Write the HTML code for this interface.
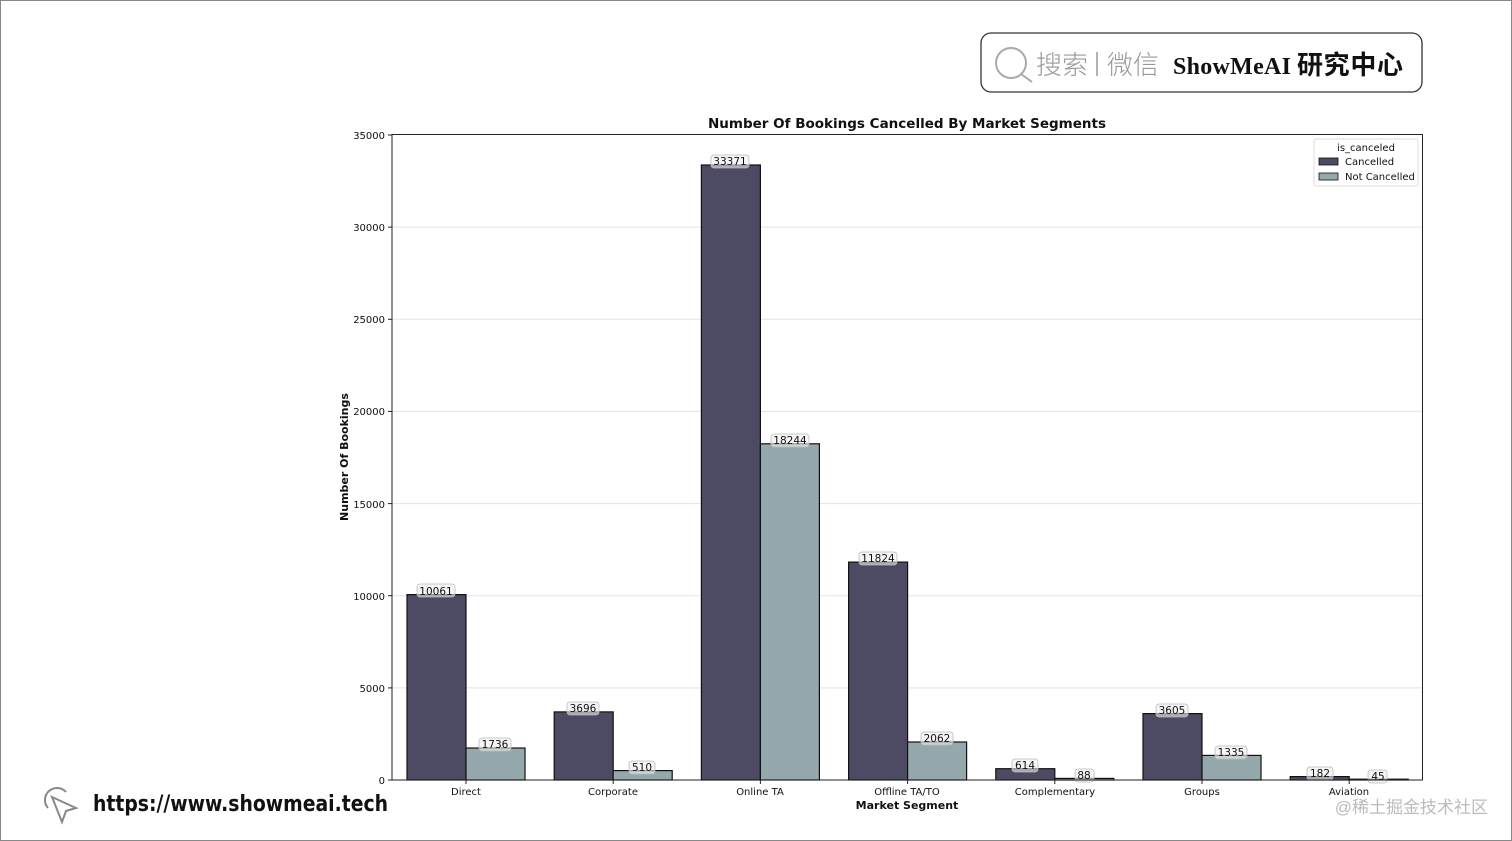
<!DOCTYPE html>
<html><head><meta charset="utf-8"><style>
html,body{margin:0;padding:0;background:#fff}
svg{display:block}
text{font-family:"DejaVu Sans","Liberation Sans",sans-serif}
</style></head><body>
<svg width="1512" height="841" viewBox="0 0 1512 841" xmlns="http://www.w3.org/2000/svg">
<rect x="0.5" y="0.5" width="1511" height="840" fill="#fff" stroke="#888" stroke-width="1"/>
<!-- logo box -->
<rect x="981" y="33" width="441" height="59" rx="10" fill="#fff" stroke="#333" stroke-width="1.3"/>
<circle cx="1011" cy="63" r="15" fill="none" stroke="#aaa" stroke-width="2"/>
<line x1="1021" y1="74" x2="1032" y2="82" stroke="#aaa" stroke-width="2"/>
<text x="1036" y="74" font-size="26" fill="#999" style="font-family:'Noto Sans CJK SC',sans-serif;font-weight:300">搜索</text>
<line x1="1097" y1="52" x2="1097" y2="76" stroke="#999" stroke-width="1.5"/>
<text x="1107" y="74" font-size="26" fill="#999" style="font-family:'Noto Sans CJK SC',sans-serif;font-weight:300">微信</text>
<text x="1173" y="74" font-size="24" font-weight="bold" fill="#111" textLength="118" style="font-family:'Liberation Serif','Noto Serif CJK SC',serif">ShowMeAI</text>
<text x="1297" y="74" font-size="26" font-weight="bold" fill="#111" textLength="106" style="font-family:'Noto Sans CJK SC',sans-serif">研究中心</text>
<!-- title -->
<text x="907" y="128" font-size="13.5" font-weight="bold" text-anchor="middle" fill="#111">Number Of Bookings Cancelled By Market Segments</text>
<!-- grid -->
<g stroke="#e3e3e3" stroke-width="1">
<line x1="392" x2="1422" y1="687.9" y2="687.9"/>
<line x1="392" x2="1422" y1="595.7" y2="595.7"/>
<line x1="392" x2="1422" y1="503.6" y2="503.6"/>
<line x1="392" x2="1422" y1="411.4" y2="411.4"/>
<line x1="392" x2="1422" y1="319.3" y2="319.3"/>
<line x1="392" x2="1422" y1="227.1" y2="227.1"/>
</g>
<!-- bars -->
<g stroke="#111" stroke-width="1.2">
<rect x="407" y="594.6" width="59" height="185.4" fill="#4d4b63"/>
<rect x="466" y="748" width="59" height="32" fill="#95a9ad"/>
<rect x="554.2" y="711.9" width="59" height="68.1" fill="#4d4b63"/>
<rect x="613.2" y="770.6" width="59" height="9.4" fill="#95a9ad"/>
<rect x="701.4" y="165" width="59" height="615" fill="#4d4b63"/>
<rect x="760.4" y="443.8" width="59" height="336.2" fill="#95a9ad"/>
<rect x="848.6" y="562.1" width="59" height="217.9" fill="#4d4b63"/>
<rect x="907.6" y="742" width="59" height="38" fill="#95a9ad"/>
<rect x="995.8" y="768.7" width="59" height="11.3" fill="#4d4b63"/>
<rect x="1054.8" y="778.4" width="59" height="1.6" fill="#95a9ad"/>
<rect x="1143" y="713.6" width="59" height="66.4" fill="#4d4b63"/>
<rect x="1202" y="755.4" width="59" height="24.6" fill="#95a9ad"/>
<rect x="1290.2" y="776.6" width="59" height="3.4" fill="#4d4b63"/>
<rect x="1349.2" y="779.2" width="59" height="0.8" fill="#95a9ad"/>
</g>
<!-- value labels -->
<g font-size="10.5" text-anchor="middle" fill="#111">
<g fill="#eee" fill-opacity="0.6" stroke="#bbb" stroke-width="0.8">
<rect x="417" y="584" width="38" height="13" rx="3"/>
<rect x="479" y="738" width="32" height="13" rx="3"/>
<rect x="567" y="702" width="32" height="13" rx="3"/>
<rect x="629" y="761" width="26" height="13" rx="3"/>
<rect x="711" y="155" width="38" height="13" rx="3"/>
<rect x="771" y="434" width="38" height="13" rx="3"/>
<rect x="859" y="552" width="38" height="13" rx="3"/>
<rect x="921" y="732" width="32" height="13" rx="3"/>
<rect x="1012" y="759" width="26" height="13" rx="3"/>
<rect x="1075" y="769" width="19" height="13" rx="3"/>
<rect x="1156" y="704" width="32" height="13" rx="3"/>
<rect x="1215" y="746" width="32" height="13" rx="3"/>
<rect x="1307" y="767" width="26" height="13" rx="3"/>
<rect x="1368" y="770" width="19" height="13" rx="3"/>
</g>
<text x="436" y="595">10061</text><text x="495" y="748">1736</text>
<text x="583" y="712">3696</text><text x="642" y="771">510</text>
<text x="730" y="165">33371</text><text x="790" y="444">18244</text>
<text x="878" y="562">11824</text><text x="937" y="742">2062</text>
<text x="1025" y="769">614</text><text x="1084" y="779">88</text>
<text x="1172" y="714">3605</text><text x="1231" y="756">1335</text>
<text x="1320" y="777">182</text><text x="1378" y="780">45</text>
</g>
<!-- axes -->
<rect x="392" y="134.5" width="1030.5" height="645.5" fill="none" stroke="#222" stroke-width="1"/>
<g stroke="#222" stroke-width="1">
<line x1="388" x2="392" y1="780" y2="780"/><line x1="388" x2="392" y1="687.9" y2="687.9"/>
<line x1="388" x2="392" y1="595.7" y2="595.7"/><line x1="388" x2="392" y1="503.6" y2="503.6"/>
<line x1="388" x2="392" y1="411.4" y2="411.4"/><line x1="388" x2="392" y1="319.3" y2="319.3"/>
<line x1="388" x2="392" y1="227.1" y2="227.1"/><line x1="388" x2="392" y1="135" y2="135"/>
<line x1="466" x2="466" y1="780" y2="784"/><line x1="613.2" x2="613.2" y1="780" y2="784"/>
<line x1="760.4" x2="760.4" y1="780" y2="784"/><line x1="907.6" x2="907.6" y1="780" y2="784"/>
<line x1="1054.8" x2="1054.8" y1="780" y2="784"/><line x1="1202" x2="1202" y1="780" y2="784"/>
<line x1="1349.2" x2="1349.2" y1="780" y2="784"/>
</g>
<g font-size="10" text-anchor="end" fill="#111">
<text x="385" y="784">0</text><text x="385" y="692">5000</text><text x="385" y="600">10000</text>
<text x="385" y="508">15000</text><text x="385" y="415">20000</text><text x="385" y="323">25000</text>
<text x="385" y="231">30000</text><text x="385" y="139">35000</text>
</g>
<g font-size="10" text-anchor="middle" fill="#111">
<text x="466" y="795">Direct</text><text x="613" y="795">Corporate</text><text x="760" y="795">Online TA</text>
<text x="907" y="795">Offline TA/TO</text><text x="1055" y="795">Complementary</text><text x="1202" y="795">Groups</text>
<text x="1349" y="795">Aviation</text>
</g>
<text x="907" y="809" font-size="11" font-weight="bold" text-anchor="middle" fill="#111">Market Segment</text>
<text transform="translate(348,457) rotate(-90)" font-size="11" font-weight="bold" text-anchor="middle" fill="#111">Number Of Bookings</text>
<!-- legend -->
<rect x="1314" y="139" width="104" height="47" rx="2" fill="#fff" stroke="#ddd"/>
<text x="1366" y="151" font-size="10" text-anchor="middle" fill="#111">is_canceled</text>
<rect x="1319" y="158" width="19" height="7" fill="#4d4b63" stroke="#111" stroke-width="0.8"/>
<text x="1345" y="165" font-size="10" fill="#111">Cancelled</text>
<rect x="1319" y="173" width="19" height="7" fill="#95a9ad" stroke="#111" stroke-width="0.8"/>
<text x="1345" y="180" font-size="10" fill="#111">Not Cancelled</text>
<!-- footer -->
<g fill="none" stroke="#888" stroke-width="2">
<path d="M48 808 A12 12 0 0 1 66 792"/>
<path d="M52 797 L76 808 L66 811 L62 822 Z"/>
</g>
<text x="93" y="811" font-size="22" font-weight="bold" fill="#111" textLength="295" lengthAdjust="spacingAndGlyphs" style="font-family:'DejaVu Sans',sans-serif">https://www.showmeai.tech</text>
<text x="1488" y="813" font-size="17" text-anchor="end" fill="#bbb" style="font-family:'Liberation Sans','Noto Sans CJK SC',sans-serif">@稀土掘金技术社区</text>
</svg>
</body></html>
